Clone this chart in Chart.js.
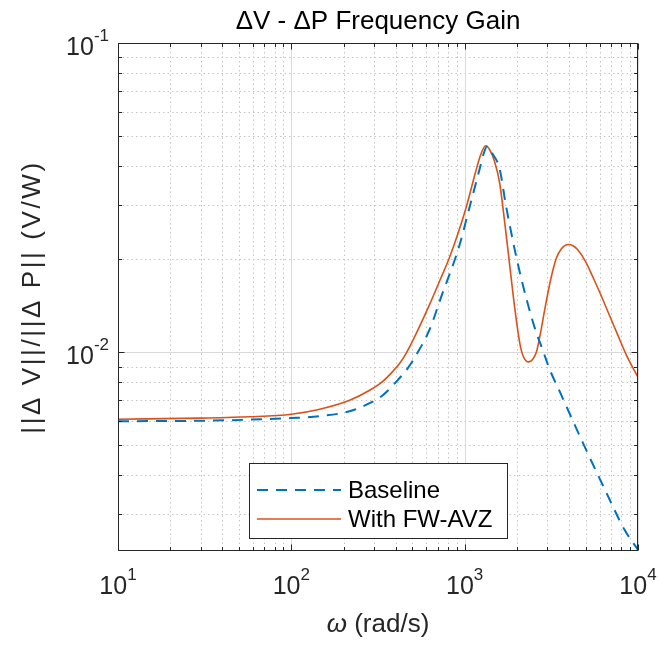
<!DOCTYPE html>
<html>
<head>
<meta charset="utf-8">
<script src="https://cdn.jsdelivr.net/npm/chart.js@4.4.1/dist/chart.umd.min.js"></script>
<style>
  html, body { margin: 0; padding: 0; background: #fff; }
  #wrap { width: 659px; height: 647px; }
</style>
</head>
<body>
<div id="wrap"><canvas id="gain"></canvas></div>
<script>
// values (omega in rad/s, gain in V/W)
const baselineW = [10, 30, 58, 100, 146, 217, 283, 337, 405, 469, 536, 628, 747, 842, 936, 1069, 1221, 1287, 1345, 1394, 1450, 1591, 1723, 1891, 2075, 2277, 2532, 2853, 3090, 3528, 4786, 6583, 8360, 10000];
const baselineV = [0.00599, 0.00601, 0.00606, 0.00613, 0.00622, 0.00645, 0.00685, 0.00727, 0.00806, 0.00888, 0.0100, 0.01186, 0.01561, 0.01866, 0.02231, 0.02958, 0.03922, 0.04385, 0.04630, 0.04520, 0.04380, 0.03922, 0.03025, 0.02315, 0.01825, 0.01483, 0.01204, 0.0100, 0.00882, 0.00749, 0.00513, 0.00351, 0.00267, 0.00230];

const avzW = [10, 30, 58, 100, 146, 217, 283, 337, 385, 422, 463, 536, 628, 727, 809, 911, 1027, 1157, 1237, 1321, 1394, 1489, 1591, 1700, 1817, 1917, 2021, 2102, 2189, 2277, 2338, 2466, 2600, 2742, 2891, 3049, 3215, 3391, 3624, 3821, 3976, 4194, 4481, 4983, 5540, 6160, 6850, 7617, 8584, 10000];
const avzV = [0.00608, 0.00613, 0.00619, 0.00631, 0.00655, 0.00700, 0.00754, 0.00806, 0.00868, 0.00922, 0.0100, 0.01178, 0.01429, 0.01733, 0.01995, 0.02403, 0.02980, 0.03836, 0.04352, 0.04653, 0.04517, 0.04132, 0.03534, 0.02647, 0.01922, 0.01483, 0.01186, 0.01038, 0.00964, 0.00935, 0.00932, 0.00949, 0.01007, 0.01160, 0.01366, 0.01597, 0.01825, 0.02025, 0.02165, 0.02222, 0.02231, 0.02214, 0.02149, 0.01966, 0.01733, 0.01516, 0.01316, 0.01143, 0.00978, 0.00831];

const seriesNames = ["Baseline", "With FW-AVZ"];
const xTicks = [10, 100, 1000, 10000];
const xTickExp = ["1", "2", "3", "4"];
const yTicks = [0.01, 0.1];
const yTickExp = ["-2", "-1"];
const xRange = [10, 10000];
const yRange = [0.00228, 0.1];

const FONT = '"Liberation Sans", Arial, sans-serif';
const BLUE = "#0072BD";
const ORANGE = "#D95319";

const toPoints = (ws, vs) => ws.map((w, i) => ({ x: w, y: vs[i] }));

// 2..9 x 10^n values inside a range
const minorValues = (range) => {
  const out = [];
  const lo = Math.floor(Math.log10(range[0]));
  const hi = Math.ceil(Math.log10(range[1]));
  for (let d = lo; d <= hi; d++) {
    for (let m = 2; m <= 9; m++) {
      const v = m * Math.pow(10, d);
      if (v >= range[0] && v <= range[1]) out.push(v);
    }
  }
  return out;
};

// "10" with a raised exponent; anchor is the centre or the right end
const powerLabel = (ctx, exp, x, y, align) => {
  ctx.font = `25px ${FONT}`;
  const wb = ctx.measureText("10").width;
  ctx.font = `17px ${FONT}`;
  const we = ctx.measureText(exp).width;
  const left = align === "right" ? x - wb - we : x - (wb + we) / 2;
  ctx.textAlign = "left";
  ctx.textBaseline = "middle";
  ctx.font = `25px ${FONT}`;
  ctx.fillText("10", left, y + 5);
  ctx.font = `17px ${FONT}`;
  ctx.fillText(exp, left + wb, y - 7);
};

const matlabAxes = {
  id: "matlabAxes",
  beforeDatasetsDraw(chart) {
    const { ctx, chartArea: a, scales: { x, y } } = chart;
    ctx.save();
    ctx.lineWidth = 1;
    // minor grid, dotted
    ctx.setLineDash([1.5, 3]);
    ctx.strokeStyle = "#c4c4c4";
    minorValues(xRange).forEach((v) => {
      const px = Math.round(x.getPixelForValue(v)) + 0.5;
      ctx.beginPath(); ctx.moveTo(px, a.top); ctx.lineTo(px, a.bottom); ctx.stroke();
    });
    minorValues(yRange).forEach((v) => {
      const py = Math.round(y.getPixelForValue(v)) + 0.5;
      ctx.beginPath(); ctx.moveTo(a.left, py); ctx.lineTo(a.right, py); ctx.stroke();
    });
    // major grid, solid
    ctx.setLineDash([]);
    ctx.strokeStyle = "#dadada";
    xTicks.forEach((v) => {
      const px = Math.round(x.getPixelForValue(v)) + 0.5;
      ctx.beginPath(); ctx.moveTo(px, a.top); ctx.lineTo(px, a.bottom); ctx.stroke();
    });
    yTicks.forEach((v) => {
      const py = Math.round(y.getPixelForValue(v)) + 0.5;
      ctx.beginPath(); ctx.moveTo(a.left, py); ctx.lineTo(a.right, py); ctx.stroke();
    });
    ctx.restore();
  },
  afterDraw(chart) {
    const { ctx, chartArea: a, scales: { x, y } } = chart;
    const L = Math.round(a.left) + 0.5, R = Math.round(a.right) - 0.5;
    const T = Math.round(a.top) + 0.5, B = Math.round(a.bottom) - 0.5;
    ctx.save();
    ctx.strokeStyle = "#262626";
    ctx.lineWidth = 1;
    ctx.strokeRect(L, T, R - L, B - T);

    // tick marks pointing inward on all four sides
    const xTick = (v, len) => {
      const px = Math.round(x.getPixelForValue(v)) + 0.5;
      ctx.beginPath();
      ctx.moveTo(px, B); ctx.lineTo(px, B - len);
      ctx.moveTo(px, T); ctx.lineTo(px, T + len);
      ctx.stroke();
    };
    const yTick = (v, len) => {
      const py = Math.round(y.getPixelForValue(v)) + 0.5;
      ctx.beginPath();
      ctx.moveTo(L, py); ctx.lineTo(L + len, py);
      ctx.moveTo(R, py); ctx.lineTo(R - len, py);
      ctx.stroke();
    };
    minorValues(xRange).forEach((v) => xTick(v, 3.5));
    minorValues(yRange).forEach((v) => yTick(v, 3.5));
    xTicks.forEach((v) => xTick(v, 6));
    yTicks.forEach((v) => yTick(v, 6));

    // tick labels
    ctx.fillStyle = "#262626";
    xTicks.forEach((v, i) => powerLabel(ctx, xTickExp[i], x.getPixelForValue(v), a.bottom + 31, "center"));
    yTicks.forEach((v, i) => powerLabel(ctx, yTickExp[i], a.left - 9, y.getPixelForValue(v), "right"));

    // title
    const cx = (a.left + a.right) / 2;
    ctx.font = `26px ${FONT}`;
    ctx.textAlign = "center";
    ctx.textBaseline = "middle";
    ctx.fillStyle = "#000";
    ctx.fillText("\u0394V - \u0394P Frequency Gain", cx, 22);

    // x axis label, omega in italic
    ctx.fillStyle = "#262626";
    ctx.font = `italic 26px ${FONT}`;
    const wOm = ctx.measureText("\u03c9").width;
    ctx.font = `26px ${FONT}`;
    const rest = " (rad/s)";
    const wRest = ctx.measureText(rest).width;
    const lx = cx - (wOm + wRest) / 2;
    ctx.textAlign = "left";
    ctx.font = `italic 26px ${FONT}`;
    ctx.fillText("\u03c9", lx, 625);
    ctx.font = `26px ${FONT}`;
    ctx.fillText(rest, lx + wOm, 625);

    // y axis label
    ctx.save();
    ctx.translate(33, (a.top + a.bottom) / 2);
    ctx.rotate(-Math.PI / 2);
    ctx.textAlign = "center";
    ctx.font = `26px ${FONT}`;
    ctx.letterSpacing = "2.6px";
    ctx.fillText("||\u0394 V||/||\u0394 P|| (V/W)", 0, 0);
    ctx.restore();

    // legend box
    const bx = 249.5, by = 463.5, bw = 258, bh = 75;
    ctx.fillStyle = "#fff";
    ctx.fillRect(bx, by, bw, bh);
    ctx.strokeStyle = "#262626";
    ctx.lineWidth = 1;
    ctx.strokeRect(bx, by, bw, bh);
    const rows = [490, 519];
    chart.data.datasets.forEach((ds, i) => {
      ctx.strokeStyle = ds.borderColor;
      ctx.lineWidth = ds.borderWidth;
      ctx.setLineDash(ds.borderDash || []);
      ctx.beginPath();
      ctx.moveTo(257, rows[i]); ctx.lineTo(341, rows[i]);
      ctx.stroke();
      ctx.setLineDash([]);
      ctx.fillStyle = "#000";
      ctx.font = `24px ${FONT}`;
      ctx.textAlign = "left";
      ctx.textBaseline = "middle";
      ctx.fillText(ds.label, 348, rows[i] + 1);
    });
    ctx.restore();
  }
};

new Chart(document.getElementById("gain"), {
  type: "line",
  data: {
    datasets: [
      {
        label: seriesNames[0],
        data: toPoints(baselineW, baselineV),
        borderColor: BLUE,
        borderWidth: 2,
        borderDash: [11, 8],
        pointRadius: 0,
        cubicInterpolationMode: "monotone",
        fill: false
      },
      {
        label: seriesNames[1],
        data: toPoints(avzW, avzV),
        borderColor: ORANGE,
        borderWidth: 1.6,
        pointRadius: 0,
        cubicInterpolationMode: "monotone",
        fill: false
      }
    ]
  },
  options: {
    responsive: true,
    maintainAspectRatio: false,
    animation: false,
    layout: { padding: { left: 118, right: 21, top: 43, bottom: 96 } },
    scales: {
      x: {
        type: "logarithmic",
        min: xRange[0],
        max: xRange[1],
        grid: { display: false },
        border: { display: false },
        ticks: { display: false },
        afterFit: (s) => { s.height = 0; }
      },
      y: {
        type: "logarithmic",
        min: yRange[0],
        max: yRange[1],
        grid: { display: false },
        border: { display: false },
        ticks: { display: false },
        afterFit: (s) => { s.width = 0; }
      }
    },
    plugins: {
      legend: { display: false },
      tooltip: { enabled: false }
    }
  },
  plugins: [matlabAxes]
});
</script>
</body>
</html>
